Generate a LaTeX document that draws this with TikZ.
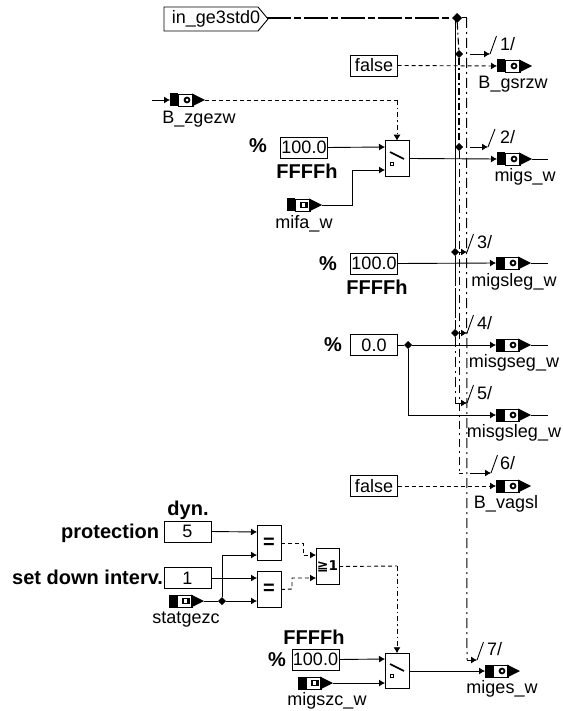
\documentclass[tikz,border=0pt]{standalone}
\usepackage{fontspec}
\setmainfont{Liberation Sans}
\newfontfamily\djv{DejaVu Sans}
\usetikzlibrary{arrows.meta,shapes.geometric}
\tikzset{
  >={Latex[length=6pt,width=7pt]},
  every node/.style={inner sep=0pt,outer sep=0pt},
  wire/.style={line width=0.9pt},
  ctrl/.style={line width=0.9pt,dash pattern=on 4pt off 3pt},
  ctrldot/.style={line width=0.9pt,dash pattern=on 5pt off 3pt on 1.5pt off 3pt},
  busb/.style={line width=1.1pt,dash pattern=on 7pt off 3pt on 2pt off 3pt},
  busc/.style={line width=1pt,dash pattern=on 10pt off 4pt on 2pt off 4pt},
  lab/.style={font=\fontsize{18}{20}\selectfont,text height=13pt,text depth=4pt},
  blab/.style={font=\fontsize{20}{22}\bfseries\selectfont,text height=14pt,text depth=4pt},
  valbox/.style={draw,line width=0.9pt,fill=white,minimum width=47pt,minimum height=21pt,font=\fontsize{18}{20}\selectfont},
  logic/.style={draw,line width=0.9pt,fill=white,minimum width=24pt,minimum height=35.5pt},
  junction/.style={diamond,fill=black,minimum size=8pt},
  tick/.style={line width=0.9pt}
}
% signal icon: name, x of left end, y of centre, glyph in the window
\newcommand{\sigicon}[4]{%
  \node[minimum width=35pt,minimum height=12pt] (#1) at (#2+17.5,#3) {};
  \begin{scope}[shift={(#2,#3)}]
    \fill (0,-6.5) rectangle (8,6.5);
    \draw[line width=0.9pt,fill=white] (8,-6) rectangle (23,6);
    \fill (22,-6.5) -- (35,0) -- (22,6.5) -- cycle;
    #4
  \end{scope}}
\newcommand{\outglyph}{\fill (17,0) circle (3.4pt); \fill[white] (17,0) circle (1.5pt);}
\newcommand{\inglyph}{\fill (13,-3.4) rectangle (21,3.4); \fill[white] (14.5,-2) rectangle (17.5,2);}
% switch symbol in a logic box whose top left corner is given
\newcommand{\switchsym}[2]{%
  \begin{scope}[shift={(#1,#2)}]
    \draw[line width=1.6pt] (5,11) -- (19,18);
    \draw[line width=1pt] (5,21.5) rectangle (8,24.5);
  \end{scope}}
\begin{document}
\begin{tikzpicture}[x=1pt,y=-1pt]
\useasboundingbox (0,0) rectangle (562,711);
\fill[white] (0,0) rectangle (562,711);

% ---------- bus lines
\node[junction,minimum size=10pt] (j0) at (457,18) {};
\node[junction] (j1) at (459,54) {};
\node[junction] (j2) at (459,147) {};
\node[junction] (j3) at (455,252) {};
\node[junction] (j4) at (455,333) {};
\node[lab,anchor=center] (tagtext) at (216,19.5) {in\_ge3std0};
\coordinate (tagtip) at (268,19);
\coordinate (bustop) at (466.5,18);
\coordinate (a5) at (455,403);
\coordinate (b6) at (459,473);
\coordinate (c7) at (467,660);
\draw[line width=0.9pt] (164,7) -- (258,7) -- (tagtip) -- (258,31) -- (164,31) -- cycle;
\draw[line width=1.6pt,dash pattern=on 24pt off 3pt on 7pt off 3pt] (tagtip) -- (268,18) -- (j0);
\draw[busc] (j0) -- (bustop);
\draw[line width=1pt] (455,18) -- (j3);
\draw[line width=1pt,dash pattern=on 30pt off 2pt] (j3) -- (j4);
\draw[busc] (j4) -- (a5);
\draw[busb] (j0) -- (j1);
\draw[busb] (j1) -- (j2);
\draw[line width=0.9pt,dash pattern=on 8pt off 4pt on 2pt off 4pt] (j2) -- (b6);
\draw[busc] (bustop) -- (c7);

% ---------- bus branches
\coordinate (t1) at (490,54);
\coordinate (t2) at (488,147);
\coordinate (t3) at (467,252);
\coordinate (t4) at (467,333);
\coordinate (t5) at (467,403);
\coordinate (t6) at (491,473);
\coordinate (t7) at (477,660);
\draw[wire,->] (470,54) -- (t1);
\draw[wire,->] (470,147) -- (t2);
\draw[wire,->] (j3) -- (t3);
\draw[wire,->] (j4) -- (t4);
\draw[wire,->] (a5) -- (t5);
\draw[wire] (b6) -- (463,473);
\draw[wire,->] (470,473) -- (t6);
\draw[wire,->] (c7) -- (t7);
\draw[tick] (t1) -- ++(6.5,-18);
\draw[tick] (t2) -- ++(7,-18);
\draw[tick] (t3) -- ++(6.5,-18);
\draw[tick] (t4) -- ++(6.5,-18);
\draw[tick] (t5) -- ++(6.5,-18);
\draw[tick] (t6) -- ++(6.5,-18);
\draw[tick] (t7) -- ++(6.5,-18);
\node[lab,anchor=west] (n1) at (500,46) {1/};
\node[lab,anchor=west] (n2) at (500,139) {2/};
\node[lab,anchor=west] (n3) at (477,244) {3/};
\node[lab,anchor=west] (n4) at (477,325) {4/};
\node[lab,anchor=west] (n5) at (477,395) {5/};
\node[lab,anchor=west] (n6) at (500,465) {6/};
\node[lab,anchor=west] (n7) at (487,651) {7/};

% ---------- row 1
\node[valbox] (f1) at (374,65.5) {false};
\sigicon{bg}{497}{66}{\outglyph}
\draw[ctrl,->] (f1.east) -- (bg.west);
\node[lab] (lbg) at (513,84) {B\_gsrzw};

% ---------- row 2
\sigicon{bz}{170}{100}{\outglyph}
\coordinate (bzin) at (152,100);
\draw[wire,->] (bzin) -- (bz.west);
\node[lab] (lbz) at (199,119) {B\_zgezw};
\node[logic] (sw1) at (397,158.5) {};
\switchsym{385}{141}
\coordinate (bzc) at (397,100);
\draw[ctrl] (bz.east) -- (bzc);
\draw[ctrldot,->] (bzc) -- (sw1.north);
\node[blab] (p1) at (258,148) {\%};
\node[valbox] (v1) at (304,147.5) {100.0};
\node[blab] (ff1) at (307,174) {FFFFh};
\draw[wire,->] (v1.east) -- (385,147);
\sigicon{mf}{287}{205}{\inglyph}
\node[lab] (lmf) at (304,224) {mifa\_w};
\draw[wire,->] (mf.east) -- (352,205) -- (352,170) -- (385,170);
\sigicon{mg}{497}{159}{\outglyph}
\coordinate (mgo) at (548,159);
\draw[wire,->] (sw1.east) -- (mg.west);
\draw[wire] (mg.east) -- (mgo);
\node[lab] (lmg) at (525,177) {migs\_w};

% ---------- row 3
\node[blab] (p2) at (328,265) {\%};
\node[valbox] (v2) at (374,263.5) {100.0};
\node[blab] (ff2) at (377,289) {FFFFh};
\sigicon{ml}{496}{263}{\outglyph}
\coordinate (mlo) at (548,263);
\draw[wire,->] (v2.east) -- (ml.west);
\draw[wire] (ml.east) -- (mlo);
\node[lab] (lml) at (514,282) {migsleg\_w};

% ---------- rows 4, 5
\node[blab] (p3) at (333,346) {\%};
\node[valbox] (v3) at (374,345) {0.0};
\node[junction] (j5) at (408,345) {};
\sigicon{ms}{496}{345}{\outglyph}
\coordinate (mso) at (548,345);
\draw[wire] (v3.east) -- (j5);
\draw[wire,->] (j5) -- (ms.west);
\draw[wire] (ms.east) -- (mso);
\node[lab] (lms) at (514,363) {misgseg\_w};
\sigicon{mt}{496}{415}{\outglyph}
\coordinate (mto) at (548,415);
\draw[wire,->] (j5) -- (408,415) -- (mt.west);
\draw[wire] (mt.east) -- (mto);
\node[lab] (lmt) at (514,433) {misgsleg\_w};

% ---------- row 6
\node[valbox] (f2) at (374,486) {false};
\sigicon{bv}{496}{486}{\outglyph}
\draw[ctrl,->] (f2.east) -- (bv.west);
\node[lab] (lbv) at (506,504) {B\_vagsl};

% ---------- logic section
\node[blab] (dyn) at (188,510) {dyn.};
\node[blab,anchor=east] (prot) at (159,533) {protection};
\node[valbox] (v5) at (187.5,531.5) {5};
\node[blab,anchor=east] (sdi) at (163,579) {set down interv.};
\node[valbox] (v6) at (187.5,578) {1};
\sigicon{st}{169}{601}{\inglyph}
\node[lab] (lst) at (186,619) {statgezc};
\node[logic] (eq1) at (269,543) {\fontsize{20}{22}\bfseries\selectfont =};
\node[logic] (eq2) at (269,589.5) {\fontsize{20}{22}\bfseries\selectfont =};
\node[junction] (j6) at (222,601) {};
\draw[wire,->] (v5.east) -- (257,532);
\draw[wire,->] (v6.east) -- (257,578);
\draw[wire] (st.east) -- (j6);
\draw[wire,->] (j6) -- (257,601);
\draw[wire,->] (j6) -- (222,555) -- (257,555);
\node[logic,minimum width=23pt] (or1) at (327.5,566.5) {\djv\bfseries\fontsize{14}{16}\selectfont ≧\raisebox{0.5pt}{\fontsize{13.5}{16}\selectfont 1}};
\draw[ctrl,->] (eq1.east) -- (303,543) -- (303,555) -- (316,555);
\draw[ctrl,->] (eq2.east) -- (292,589) -- (292,578) -- (316,578);
\node[logic] (sw2) at (397,671) {};
\switchsym{385}{653}
\coordinate (orc) at (397,566);
\draw[ctrl] (or1.east) -- (orc);
\draw[ctrldot,->] (orc) -- (sw2.north);
\node[blab] (ff3) at (314,639) {FFFFh};
\node[blab] (p4) at (277,661) {\%};
\node[valbox] (v7) at (315.5,659.5) {100.0};
\draw[wire,->] (v7.east) -- (385,659);
\sigicon{mz}{298}{683}{\inglyph}
\draw[wire,->] (mz.east) -- (385,683);
\node[lab] (lmz) at (327,701) {migszc\_w};
\sigicon{me}{485}{671}{\outglyph}
\draw[wire,->] (sw2.east) -- (me.west);
\node[lab] (lme) at (502,689) {miges\_w};
\end{tikzpicture}
\end{document}
